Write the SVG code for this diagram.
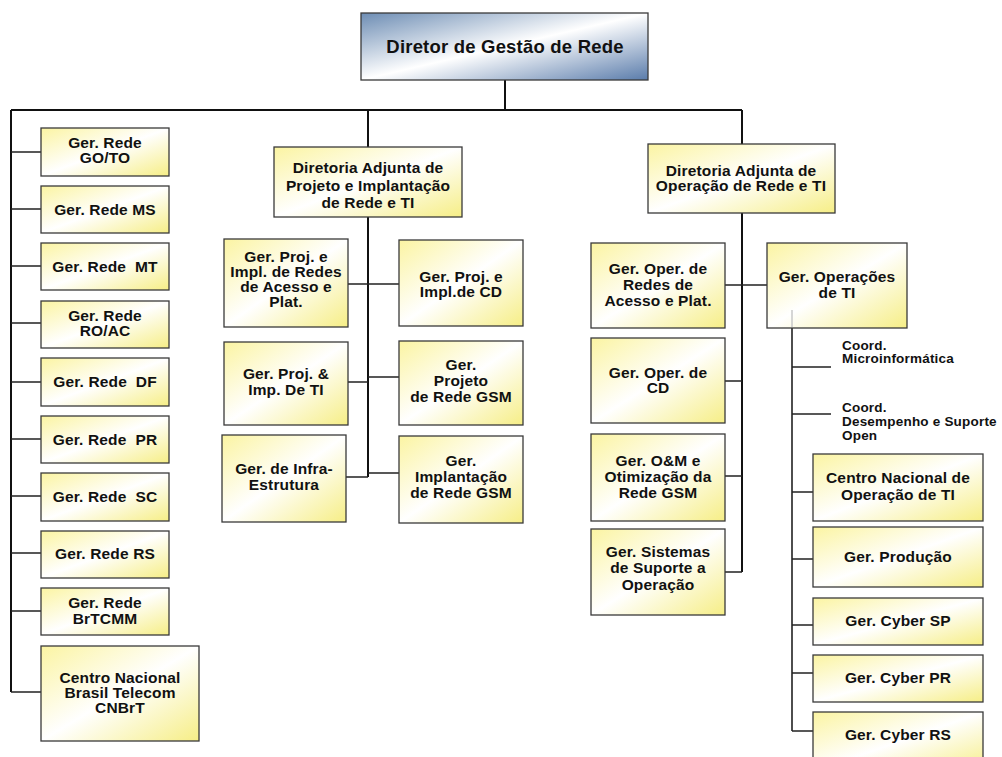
<svg xmlns="http://www.w3.org/2000/svg" width="1002" height="757" viewBox="0 0 1002 757">
  <defs>
    <linearGradient id="gYellow" x1="0" y1="0" x2="1" y2="1">
      <stop offset="0" stop-color="#fbf4a2"/>
      <stop offset="0.5" stop-color="#ffffff"/>
      <stop offset="1" stop-color="#f6ee86"/>
    </linearGradient>
    <linearGradient id="gBlue" x1="0" y1="0" x2="1" y2="1">
      <stop offset="0" stop-color="#6d8db4"/>
      <stop offset="0.5" stop-color="#ffffff"/>
      <stop offset="1" stop-color="#5a7cab"/>
    </linearGradient>
    <style>
      .box { fill: url(#gYellow); stroke: #3a3a3a; stroke-width: 1.3; }
      .top { fill: url(#gBlue); stroke: #3a3a3a; stroke-width: 1.3; }
      text { font-family: "Liberation Sans", Arial, sans-serif; font-weight: bold; fill: #111; text-anchor: middle; }
      .t { font-size: 15.5px; letter-spacing: 0.15px; }
      .tt { font-size: 18.5px; letter-spacing: 0.2px; }
      .c { font-size: 13.5px; letter-spacing: 0.2px; text-anchor: start; }
      .ln { stroke: #111; stroke-width: 2; fill: none; }
      .br { stroke: #222; stroke-width: 1.6; fill: none; }
      .faint { stroke: #c8c8c8; stroke-width: 1.5; fill: none; }
    </style>
  </defs>
  <rect width="1002" height="757" fill="#ffffff"/>

  <!-- connectors -->
  <g id="connectors">
    <path class="ln" d="M505 80V110M11 110H742M11 110V692"/>
    <path class="br" d="M11 152H41M11 209H41M11 266H41M11 323H41M11 382H41M11 439H41M11 496H41M11 553H41M11 611H41M11 692H41"/>
    <path class="ln" d="M368 110V147M368 217V477"/>
    <path class="br" d="M348 284H399M348 382H368M368 377H399M346 477H368M368 473H399"/>
    <path class="ln" d="M742 110V144M742 213V572"/>
    <path class="br" d="M725 285H767M725 381H742M725 476H742M725 572H742"/>
    <path class="br" d="M792 328V731M792 367H831M792 414H831M792 492H813M792 559H813M792 625H813M792 673H813M792 731H813"/>
  </g>

  <g id="diretor">
    <rect class="top" x="361" y="13" width="287" height="67"/>
    <text class="tt" x="505" y="53">Diretor de Gestão de Rede</text>
  </g>

  <!-- regional managers -->
  <g id="rede-goto"><rect class="box" x="41" y="128" width="128" height="48"/><text class="t" x="105" y="148">Ger. Rede</text><text class="t" x="105" y="163">GO/TO</text></g>
  <g id="rede-ms"><rect class="box" x="41" y="186" width="128" height="47"/><text class="t" x="105" y="215">Ger. Rede MS</text></g>
  <g id="rede-mt"><rect class="box" x="41" y="243" width="128" height="47"/><text class="t" x="105" y="272" xml:space="preserve">Ger. Rede  MT</text></g>
  <g id="rede-roac"><rect class="box" x="41" y="301" width="128" height="47"/><text class="t" x="105" y="321">Ger. Rede</text><text class="t" x="105" y="336">RO/AC</text></g>
  <g id="rede-df"><rect class="box" x="41" y="358" width="128" height="48"/><text class="t" x="105" y="387" xml:space="preserve">Ger. Rede  DF</text></g>
  <g id="rede-pr"><rect class="box" x="41" y="416" width="128" height="47"/><text class="t" x="105" y="445" xml:space="preserve">Ger. Rede  PR</text></g>
  <g id="rede-sc"><rect class="box" x="41" y="473" width="128" height="48"/><text class="t" x="105" y="502" xml:space="preserve">Ger. Rede  SC</text></g>
  <g id="rede-rs"><rect class="box" x="41" y="531" width="128" height="47"/><text class="t" x="105" y="559">Ger. Rede RS</text></g>
  <g id="rede-brtcmm"><rect class="box" x="41" y="588" width="128" height="47"/><text class="t" x="105" y="608">Ger. Rede</text><text class="t" x="105" y="624">BrTCMM</text></g>
  <g id="cnbrt"><rect class="box" x="41" y="646" width="158" height="95"/><text class="t" x="120" y="683">Centro Nacional</text><text class="t" x="120" y="698">Brasil Telecom</text><text class="t" x="120" y="713">CNBrT</text></g>

  <!-- project & deployment branch -->
  <g id="dir-projeto"><rect class="box" x="274" y="147" width="188" height="70"/><text class="t" x="368" y="173">Diretoria Adjunta de</text><text class="t" x="368" y="191">Projeto e Implantação</text><text class="t" x="368" y="208">de Rede e TI</text></g>
  <g id="proj-acesso"><rect class="box" x="224" y="239" width="124" height="88"/><text class="t" x="286" y="262">Ger. Proj. e</text><text class="t" x="286" y="277">Impl. de Redes</text><text class="t" x="286" y="292">de Acesso e</text><text class="t" x="286" y="307">Plat.</text></g>
  <g id="proj-cd"><rect class="box" x="399" y="240" width="124" height="86"/><text class="t" x="461" y="282">Ger. Proj. e</text><text class="t" x="461" y="297">Impl.de CD</text></g>
  <g id="proj-ti"><rect class="box" x="224" y="342" width="124" height="83"/><text class="t" x="286" y="379">Ger. Proj. &amp;</text><text class="t" x="286" y="395">Imp. De TI</text></g>
  <g id="proj-gsm"><rect class="box" x="399" y="341" width="124" height="84"/><text class="t" x="461" y="370">Ger.</text><text class="t" x="461" y="386">Projeto</text><text class="t" x="461" y="402">de Rede GSM</text></g>
  <g id="infra"><rect class="box" x="222" y="435" width="124" height="87"/><text class="t" x="284" y="474">Ger. de Infra-</text><text class="t" x="284" y="490">Estrutura</text></g>
  <g id="impl-gsm"><rect class="box" x="399" y="436" width="124" height="87"/><text class="t" x="461" y="466">Ger.</text><text class="t" x="461" y="482">Implantação</text><text class="t" x="461" y="498">de Rede GSM</text></g>

  <!-- operations branch -->
  <g id="dir-operacao"><rect class="box" x="648" y="144" width="187" height="69"/><text class="t" x="741" y="176">Diretoria Adjunta de</text><text class="t" x="741" y="191">Operação de Rede e TI</text></g>
  <g id="oper-acesso"><rect class="box" x="591" y="243" width="134" height="85"/><text class="t" x="658" y="274">Ger. Oper. de</text><text class="t" x="658" y="290">Redes de</text><text class="t" x="658" y="306">Acesso e Plat.</text></g>
  <g id="oper-cd"><rect class="box" x="591" y="338" width="134" height="85"/><text class="t" x="658" y="378">Ger. Oper. de</text><text class="t" x="658" y="393">CD</text></g>
  <g id="om-gsm"><rect class="box" x="591" y="434" width="134" height="87"/><text class="t" x="658" y="466">Ger. O&amp;M e</text><text class="t" x="658" y="482">Otimização da</text><text class="t" x="658" y="498">Rede GSM</text></g>
  <g id="sistemas"><rect class="box" x="591" y="529" width="134" height="86"/><text class="t" x="658" y="557">Ger. Sistemas</text><text class="t" x="658" y="573">de Suporte a</text><text class="t" x="658" y="590">Operação</text></g>
  <g id="oper-ti"><rect class="box" x="767" y="243" width="140" height="85"/><text class="t" x="837" y="282">Ger. Operações</text><text class="t" x="837" y="298">de TI</text></g>
  <!-- trunk start showing through the box fill -->
  <path class="faint" d="M792 310V327"/>

  <!-- IT operations units -->
  <g id="coord-micro"><text class="c" x="842" y="350">Coord.</text><text class="c" x="842" y="363">Microinformática</text></g>
  <g id="coord-desemp"><text class="c" x="842" y="412">Coord.</text><text class="c" x="842" y="426">Desempenho e Suporte</text><text class="c" x="842" y="440">Open</text></g>
  <g id="cn-ti"><rect class="box" x="813" y="454" width="170" height="67"/><text class="t" x="898" y="483">Centro Nacional de</text><text class="t" x="898" y="500">Operação de TI</text></g>
  <g id="producao"><rect class="box" x="813" y="527" width="170" height="60"/><text class="t" x="898" y="562">Ger. Produção</text></g>
  <g id="cyber-sp"><rect class="box" x="813" y="598" width="170" height="47"/><text class="t" x="898" y="626">Ger. Cyber SP</text></g>
  <g id="cyber-pr"><rect class="box" x="813" y="655" width="170" height="47"/><text class="t" x="898" y="683">Ger. Cyber PR</text></g>
  <g id="cyber-rs"><rect class="box" x="813" y="712" width="170" height="60"/><text class="t" x="898" y="740">Ger. Cyber RS</text></g>
</svg>
